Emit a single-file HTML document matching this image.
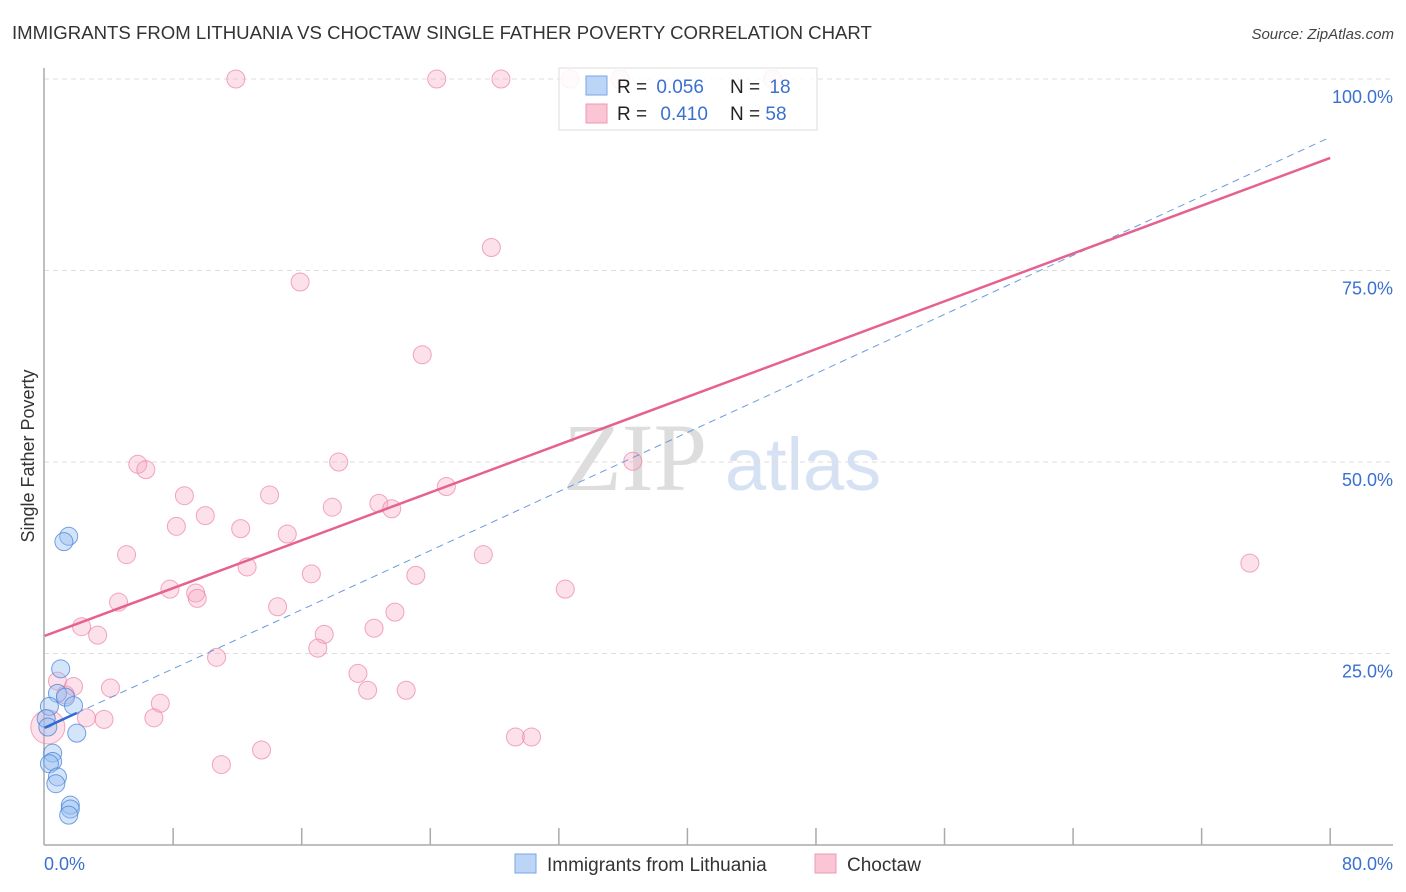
<!DOCTYPE html>
<html><head><meta charset="utf-8"><style>
body{margin:0;background:#fff;font-family:"Liberation Sans",sans-serif;}
svg{display:block}
</style></head><body>
<svg id="chart" width="1406" height="892">
<text x="12" y="39" font-size="18.6" fill="#333">IMMIGRANTS FROM LITHUANIA VS CHOCTAW SINGLE FATHER POVERTY CORRELATION CHART</text>
<text x="1394" y="39" font-size="15" fill="#444" font-style="italic" text-anchor="end">Source: ZipAtlas.com</text>
<text x="34" y="456" font-size="18" fill="#333" transform="rotate(-90 34 456)" text-anchor="middle">Single Father Poverty</text>
<text x="635" y="490" font-size="96" fill="#ddd" font-family="Liberation Serif,serif" text-anchor="middle">ZIP</text>
<text x="803" y="490" font-size="74" fill="#d6e2f3" text-anchor="middle">atlas</text>
<g id="grid"></g><g id="axes"></g><g id="pts"></g><g id="trends"></g>
<g>
<rect x="559" y="68" width="258" height="62" fill="rgba(255,255,255,0.85)" stroke="#ddd"/>
<rect x="586" y="76" width="21" height="19" fill="#bcd5f7" stroke="#7aa6e6"/>
<rect x="586" y="104" width="21" height="19" fill="#fac5d4" stroke="#ee9ab2"/>
<text x="617" y="93" font-size="19" fill="#222">R = <tspan fill="#3a70d0" dx="4">0.056</tspan></text>
<text x="730" y="93" font-size="19" fill="#222">N = <tspan fill="#3a70d0" dx="4">18</tspan></text>
<text x="617" y="120" font-size="19" fill="#222">R = <tspan fill="#3a70d0" dx="8">0.410</tspan></text>
<text x="730" y="120" font-size="19" fill="#222">N = <tspan fill="#3a70d0">58</tspan></text>
</g>
<g>
<rect x="515" y="854" width="21" height="19" fill="#bcd5f7" stroke="#7aa6e6"/>
<text x="547" y="871" font-size="19" fill="#333">Immigrants from Lithuania</text>
<rect x="815" y="854" width="21" height="19" fill="#fac5d4" stroke="#ee9ab2"/>
<text x="847" y="871" font-size="19" fill="#333">Choctaw</text>
</g>
</svg>
<script>
const yTicks=[25,50,75,100];
const yTickLabels=["25.0%","50.0%","75.0%","100.0%"];
const xTicks=[0,8,16,24,32,40,48,56,64,72,80];
const choctawX=[11.9,24.4,28.4,32.7,35.8,45.3,27.8,15.9,23.5,5.8,6.3,18.3,36.6,8.7,14.0,25.0,8.2,10.0,20.8,17.9,21.6,12.2,15.1,5.1,27.3,75.0,12.6,16.6,23.1,7.8,9.4,9.5,4.6,14.5,21.8,32.4,2.3,3.3,17.4,20.5,17.0,10.7,0.8,1.8,4.1,19.5,20.1,22.5,7.2,1.3,2.6,3.7,6.8,0.2,13.5,11.0,29.3,30.3];
const choctawY=[100,100,100,100,100,100,78.0,73.5,64.0,49.7,49.0,50.0,50.1,45.6,45.7,46.8,41.6,43.0,44.6,44.1,43.9,41.3,40.6,37.9,37.9,36.8,36.3,35.4,35.2,33.4,32.9,32.2,31.7,31.1,30.4,33.4,28.5,27.4,27.5,28.3,25.7,24.5,21.4,20.7,20.5,22.4,20.2,20.2,18.5,19.6,16.6,16.4,16.6,15.4,12.4,10.5,14.1,14.1];
const lithX=[1.5,1.2,1.0,0.8,1.3,1.8,0.3,0.1,2.0,0.2,0.5,0.5,0.3,0.8,0.7,1.6,1.6,1.5];
const lithY=[40.3,39.6,23.0,19.8,19.3,18.2,18.1,16.5,14.6,15.4,12.0,10.9,10.6,8.9,8.0,5.2,4.7,3.9];
const choctawTrend=[27.3,89.7];  // y at x=0 and x=80
const lithTrend=[15.3,92.4];
const sx=v=>44.6+v*16.07, sy=v=>845-v*7.66;
const NS="http://www.w3.org/2000/svg";
function mk(tag,attrs,parent){const e=document.createElementNS(NS,tag);for(const k in attrs)e.setAttribute(k,attrs[k]);document.getElementById(parent).appendChild(e);return e;}
yTicks.forEach((t,i)=>{
 const l=mk('line',{x1:44,x2:1393,y1:sy(t),y2:sy(t),stroke:'#ddd','stroke-dasharray':'5,4'},'grid');
 
 
 const tx=mk('text',{x:1393,y:sy(t)+24,'font-size':18,fill:'#3a70d0','text-anchor':'end'},'grid');
 tx.textContent=yTickLabels[i];
 
 
});
const ax=mk('line',{x1:44,x2:44,y1:68,y2:845,stroke:'#aaa','stroke-width':1.5},'axes');


const bx=mk('line',{x1:44,x2:1393,y1:845,y2:845,stroke:'#aaa','stroke-width':1.5},'axes');


xTicks.forEach(t=>{if(t===0)return;
 const l=mk('line',{x1:sx(t),x2:sx(t),y1:828,y2:845,stroke:'#aaa','stroke-width':1.5},'axes');
 
 
});
const x0=mk('text',{x:44,y:870,'font-size':18,fill:'#3a70d0'},'axes');x0.textContent='0.0%';


const x1=mk('text',{x:1393,y:870,'font-size':18,fill:'#3a70d0','text-anchor':'end'},'axes');x1.textContent='80.0%';


choctawX.forEach((v,i)=>{
 const c=mk('circle',{cx:sx(v),cy:sy(choctawY[i]),r:i===53?17:9,fill:'rgba(246,170,195,0.35)',stroke:'rgba(236,130,165,0.7)','stroke-width':1},'pts');
 
 
});
lithX.forEach((v,i)=>{
 const c=mk('circle',{cx:sx(v),cy:sy(lithY[i]),r:9,fill:'rgba(150,190,240,0.4)',stroke:'rgba(70,130,220,0.75)','stroke-width':1},'pts');
 
 
});
const ly=x=>lithTrend[0]+(lithTrend[1]-lithTrend[0])*x/80;
const ld=mk('line',{x1:sx(2),y1:sy(ly(2)),x2:sx(80),y2:sy(ly(80)),stroke:'#6a9ae0','stroke-width':1,'stroke-dasharray':'7,5'},'trends');


const ls=mk('line',{x1:sx(0),y1:sy(ly(0)),x2:sx(2),y2:sy(ly(2)),stroke:'#2f6ad8','stroke-width':2.5},'trends');


const cl=mk('line',{x1:sx(0),y1:sy(choctawTrend[0]),x2:sx(80),y2:sy(choctawTrend[1]),stroke:'#e6618f','stroke-width':2.5},'trends');


</script>
</body></html>
